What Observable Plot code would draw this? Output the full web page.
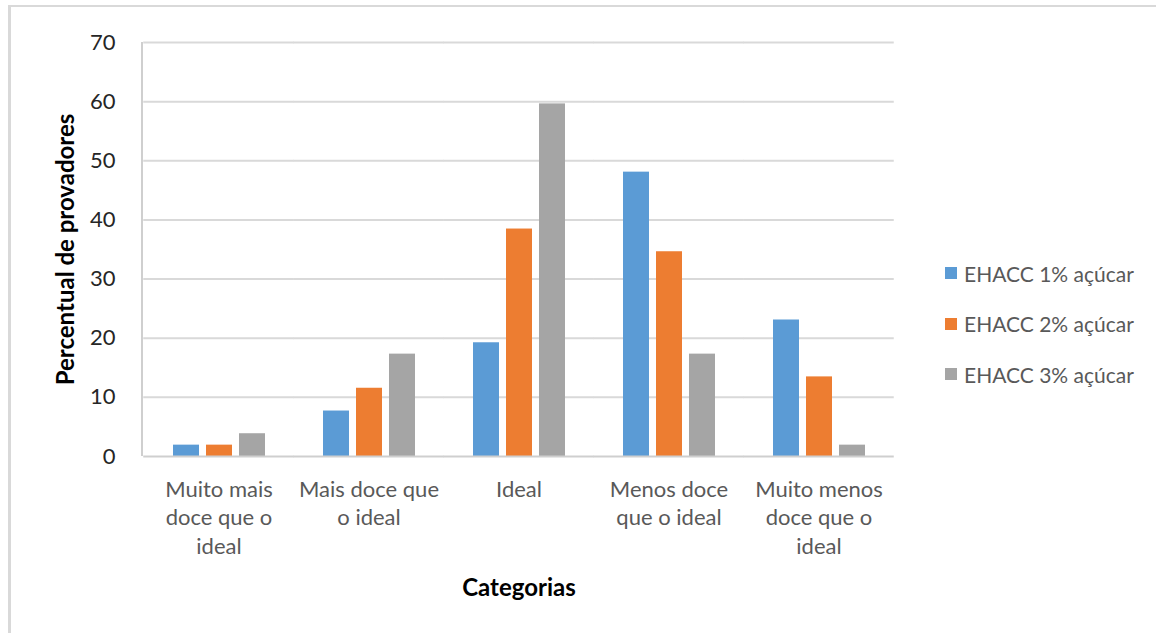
<!DOCTYPE html>
<html>
<head>
<meta charset="utf-8">
<script src="https://cdn.jsdelivr.net/npm/d3@7"></script>
<script src="https://cdn.jsdelivr.net/npm/@observablehq/plot@0.6"></script>
<style>
  body { margin: 0; background: #fff; }
  #wrap { position: relative; width: 1156px; height: 633px; overflow: hidden; font-family: Lato, "Open Sans", sans-serif; }
  #wrap svg { position: absolute; left: 0; top: 0; }
  .border { position: absolute; left: 8px; top: 5px; right: -10px; bottom: -10px; border-top: 2px solid #d9d9d9; border-left: 3px solid #d9d9d9; pointer-events: none; }
  .legend { position: absolute; left: 945px; top: 248px; }
  .legend .item { display: flex; align-items: center; height: 50.5px; font-size: 21px; color: #595959; white-space: nowrap; }
  .legend .sw { width: 12px; height: 12px; margin-right: 7px; }
</style>
</head>
<body>
<div id="wrap"></div>
<script>
const categories = ["Muito mais doce que o ideal", "Mais doce que o ideal", "Ideal", "Menos doce que o ideal", "Muito menos doce que o ideal"];
const categoryLabels = ["Muito mais\ndoce que o\nideal", "Mais doce que\no ideal", "Ideal", "Menos doce\nque o ideal", "Muito menos\ndoce que o\nideal"];
const seriesNames = ["EHACC 1% açúcar", "EHACC 2% açúcar", "EHACC 3% açúcar"];
const seriesColors = ["#5B9BD5", "#ED7D31", "#A5A5A5"];
const ehacc1 = [1.92, 7.69, 19.23, 48.08, 23.08];
const ehacc2 = [1.92, 11.54, 38.46, 34.62, 13.46];
const ehacc3 = [3.85, 17.31, 59.62, 17.31, 1.92];
const yTicks = [0, 10, 20, 30, 40, 50, 60, 70];
const xTitle = "Categorias";
const yTitle = "Percentual de provadores";

const seriesValues = [ehacc1, ehacc2, ehacc3];
const data = categories.flatMap((c, i) => seriesValues.map((vals, j) => ({category: c, series: seriesNames[j], value: vals[i]})));

const W = 1156, H = 633;
const mL = 142, mR = 261, mT = 42, mB = 177;
const fxPadInner = 0.382, fxPadOuter = 0.191;
const step = (W - mL - mR) / (categories.length - fxPadInner + 2 * fxPadOuter);
const halfGap = step * fxPadInner / 2;

const chart = Plot.plot({
  width: W, height: H,
  marginLeft: mL, marginRight: mR, marginTop: mT, marginBottom: mB,
  style: {fontFamily: "Lato, 'Open Sans', sans-serif", background: "transparent"},
  fx: {domain: categories, paddingInner: fxPadInner, paddingOuter: fxPadOuter, label: null},
  x: {domain: seriesNames, paddingInner: 0.224, paddingOuter: 0, axis: null},
  y: {domain: [0, 70]},
  color: {domain: seriesNames, range: seriesColors},
  marks: [
    Plot.ruleY(yTicks.slice(1), {stroke: "#d9d9d9", strokeWidth: 2, insetLeft: -halfGap, insetRight: -halfGap}),
    Plot.barY(data, {fx: "category", x: "series", y: "value", fill: "series"}),
    Plot.ruleY([0], {stroke: "#cfcfcf", strokeWidth: 2, insetLeft: -halfGap, insetRight: -halfGap}),
    Plot.axisY({ticks: yTicks, tickSize: 0, tickPadding: 57, fontSize: 22, fill: "#262626", label: null}),
    Plot.axisFx({anchor: "bottom", tickSize: 0, tickPadding: 20, fontSize: 22, fill: "#595959", lineHeight: 1.3,
      tickFormat: c => categoryLabels[categories.indexOf(c)], label: null}),
    Plot.text([{c: categories[0], t: yTitle}], {fx: "c", text: "t", frameAnchor: "left", textAnchor: "middle", rotate: -90, dx: -(halfGap + mL - 65), fontWeight: "bold", fontSize: 24, fill: "#000"}),
    Plot.text([{c: categories[2], t: xTitle}], {fx: "c", text: "t", frameAnchor: "bottom", lineAnchor: "middle", dy: 132, fontWeight: "bold", fontSize: 24, fill: "#000"})
  ]
});

const wrap = document.getElementById("wrap");
wrap.appendChild(chart);

// vertical axis line along the left edge of the plot frame
const axisLine = document.createElementNS("http://www.w3.org/2000/svg", "line");
axisLine.setAttribute("x1", mL); axisLine.setAttribute("x2", mL);
axisLine.setAttribute("y1", mT); axisLine.setAttribute("y2", H - mB);
axisLine.setAttribute("stroke", "#cfcfcf"); axisLine.setAttribute("stroke-width", 2);
chart.appendChild(axisLine);

const border = document.createElement("div");
border.className = "border";
wrap.appendChild(border);

const legend = document.createElement("div");
legend.className = "legend";
seriesNames.forEach((s, i) => {
  const item = document.createElement("div");
  item.className = "item";
  const sw = document.createElement("span");
  sw.className = "sw";
  sw.style.background = seriesColors[i];
  item.appendChild(sw);
  item.appendChild(document.createTextNode(s));
  legend.appendChild(item);
});
wrap.appendChild(legend);
</script>
</body>
</html>
